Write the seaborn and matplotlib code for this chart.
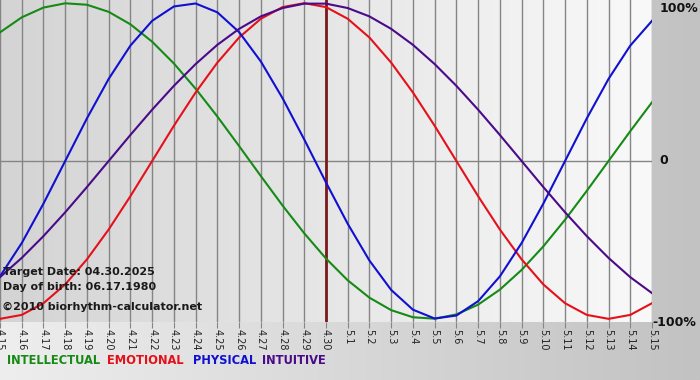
import numpy as np
import pandas as pd
import matplotlib
matplotlib.use("Agg")
import matplotlib.pyplot as plt
import seaborn as sns

days = ["4.15", "4.16", "4.17", "4.18", "4.19", "4.20", "4.21", "4.22", "4.23", "4.24",
        "4.25", "4.26", "4.27", "4.28", "4.29", "4.30", "5.1", "5.2", "5.3", "5.4",
        "5.5", "5.6", "5.7", "5.8", "5.9", "5.10", "5.11", "5.12", "5.13", "5.14", "5.15"]

physical = [-0.731, -0.520, -0.270, 0.000, 0.270, 0.520, 0.731, 0.888, 0.979, 0.998,
            0.942, 0.817, 0.631, 0.398, 0.136, -0.136, -0.398, -0.631, -0.817, -0.942,
            -0.998, -0.979, -0.888, -0.731, -0.520, -0.270, 0.000, 0.270, 0.520, 0.731, 0.888]
emotional = [-1.000, -0.975, -0.901, -0.782, -0.623, -0.434, -0.223, 0.000, 0.223, 0.434,
             0.623, 0.782, 0.901, 0.975, 1.000, 0.975, 0.901, 0.782, 0.623, 0.434,
             0.223, 0.000, -0.223, -0.434, -0.623, -0.782, -0.901, -0.975, -1.000, -0.975, -0.901]
intellectual = [0.815, 0.910, 0.972, 0.999, 0.990, 0.945, 0.866, 0.756, 0.618, 0.458,
                0.282, 0.095, -0.095, -0.282, -0.458, -0.618, -0.756, -0.866, -0.945, -0.990,
                -0.999, -0.972, -0.910, -0.815, -0.690, -0.541, -0.372, -0.189, 0.000, 0.189, 0.372]
intuitive = [-0.736, -0.614, -0.476, -0.325, -0.165, 0.000, 0.165, 0.325, 0.476, 0.614,
             0.736, 0.837, 0.916, 0.969, 0.997, 0.997, 0.969, 0.916, 0.837, 0.736,
             0.614, 0.476, 0.325, 0.165, 0.000, -0.165, -0.325, -0.476, -0.614, -0.736, -0.837]

series_names = ["INTELLECTUAL", "EMOTIONAL", "PHYSICAL", "INTUITIVE"]
colors = ["#158a15", "#e5101a", "#1010d2", "#4a0a8a"]
target_day = "4.30"

rows = []
for name, vals in zip(series_names, [intellectual, emotional, physical, intuitive]):
    for i, v in enumerate(vals):
        rows.append({"day": i, "value": v, "series": name})
df = pd.DataFrame(rows)

W, H = 700, 380
fig = plt.figure(figsize=(W / 100, H / 100), dpi=100)

# background gradient for the whole figure
bg = fig.add_axes([0, 0, 1, 1], zorder=-10)
grad = np.linspace(0, 1, 256)[None, :]
bg.imshow(grad, aspect="auto", cmap=matplotlib.colors.LinearSegmentedColormap.from_list(
    "bg", ["#eeeeee", "#c2c2c2"]), extent=[0, 1, 0, 1])
bg.set_axis_off()

left, right = 0 / W, 652 / W
top, bottom = 1.0, 1 - 322 / H
ax = fig.add_axes([left, bottom, right - left, top - bottom])

ax.imshow(grad, aspect="auto", cmap=matplotlib.colors.LinearSegmentedColormap.from_list(
    "pa", ["#d4d4d4", "#f9f9f9"]), extent=[0, 30, -1.02, 1.02], zorder=0)

for i in range(len(days)):
    ax.axvline(i, color="#858585", lw=1.0, zorder=1)
ax.axhline(0, color="#858585", lw=1.0, zorder=1)
ax.axvline(days.index(target_day), color="#7a1a1a", lw=2.0, zorder=2)

sns.lineplot(data=df, x="day", y="value", hue="series", palette=dict(zip(series_names, colors)),
             hue_order=series_names, lw=1.5, ax=ax, legend=False, zorder=3)
for ln in ax.get_lines():
    ln.set_solid_joinstyle("round")

ax.set_xlim(0, 30)
ax.set_ylim(-1.02, 1.02)
ax.set_xticks(range(len(days)))
ax.set_xticklabels(days, rotation=270, fontsize=7, color="#222222")
ax.tick_params(axis="x", length=4, color="#858585", pad=1)
ax.set_yticks([])
ax.set_xlabel("")
ax.set_ylabel("")
for s in ax.spines.values():
    s.set_visible(False)

# right-hand labels
lab_kw = dict(fontsize=9, fontweight="bold", color="#111111", transform=ax.transAxes,
              va="center", clip_on=False)
ax.text(1.012, 0.975, "100%", ha="left", **lab_kw)
ax.text(1.012, 0.5, "0", ha="left", **lab_kw)
ax.text(1.0, 0.0, "-100%", ha="left", **lab_kw)

# info texts
info_kw = dict(fontsize=8, fontweight="bold", color="#1a1a1a", ha="left", va="center")
fig.text(3 / W, 1 - 272 / H, "Target Date: 04.30.2025", **info_kw)
fig.text(3 / W, 1 - 287 / H, "Day of birth: 06.17.1980", **info_kw)
fig.text(2 / W, 1 - 307 / H, "\u00a92010 biorhythm-calculator.net", **info_kw)

# legend words
leg_x = [7, 107, 193, 262]
for name, c, x in zip(series_names, colors, leg_x):
    fig.text(x / W, 1 - 361 / H, name, color=c, fontsize=8.3, fontweight="bold",
             ha="left", va="center")

fig.savefig("out.png", dpi=100)
